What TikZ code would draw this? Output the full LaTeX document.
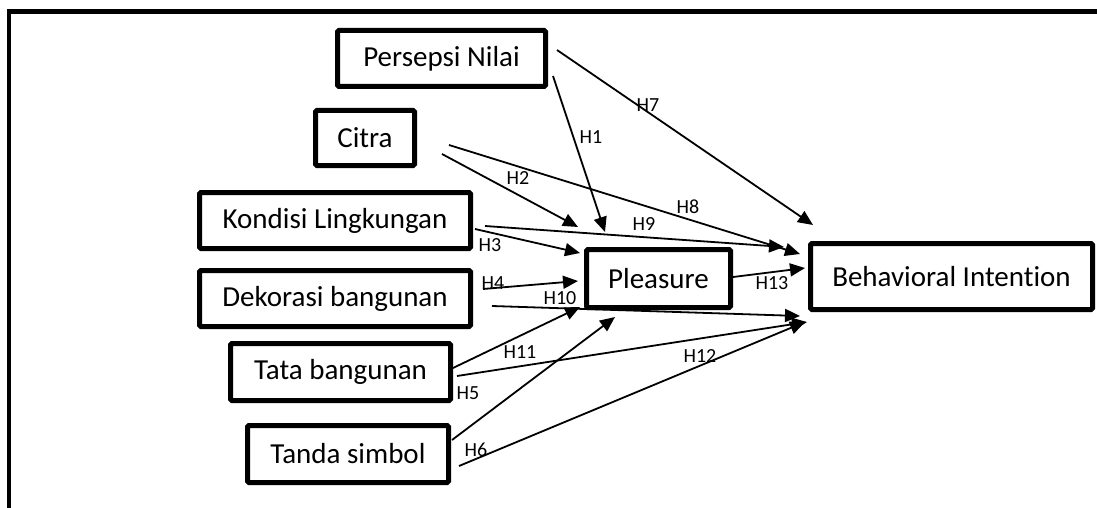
\documentclass[tikz,border=0pt]{standalone}
\usepackage{fontspec}
\setmainfont{Carlito}[Ligatures=NoCommon]
\usetikzlibrary{arrows.meta}
\begin{document}
\begin{tikzpicture}[x=1pt,y=-1pt,
  box/.style={draw, line width=5pt, rectangle, rounded corners=1.5pt, inner sep=0pt, align=center,
    font=\fontsize{29}{34}\selectfont},
  conn/.style={line width=1.8pt, -{Triangle[length=15pt,width=13pt]}},
  hlab/.style={inner sep=0pt, font=\fontsize{20}{24}\selectfont}]
\useasboundingbox (0,0) rectangle (1097,508);
\fill[white] (0,0) rectangle (1097,508);
% frame
\draw[line width=4.5pt] (9,520) -- (9,11.5) -- (1110,11.5);
% boxes
\node[box, minimum width=208pt, minimum height=56pt] (PN) at (441.5,58.5) {Persepsi Nilai};
\node[box, minimum width=99pt, minimum height=55pt] (CI) at (365,138) {Citra};
\node[box, minimum width=271pt, minimum height=56pt] (KL) at (335,220.5) {Kondisi Lingkungan};
\node[box, minimum width=271pt, minimum height=56pt] (DB) at (335,298.5) {Dekorasi bangunan};
\node[box, minimum width=220pt, minimum height=57pt] (TB) at (340.5,372) {Tata bangunan};
\node[box, minimum width=201pt, minimum height=57pt] (TS) at (348,454) {Tanda simbol};
\node[box, minimum width=144pt, minimum height=58pt] (PL) at (658.5,278.5) {Pleasure};
\node[box, minimum width=282pt, minimum height=66pt] (BI) at (951.5,276.5) {Behavioral Intent\kern0pt ion};
% connector ends
\coordinate (s7) at (557,50);   \coordinate (t7) at (813,225);
\coordinate (s1) at (553,76);   \coordinate (t1) at (605,232);
\coordinate (s2) at (442,154);  \coordinate (t2) at (578,227);
\coordinate (s8) at (449,145);  \coordinate (t8) at (800,254);
\coordinate (s9) at (485,226);  \coordinate (t9) at (784,247);
\coordinate (s3) at (475,229);  \coordinate (t3) at (580,253);
\coordinate (s4) at (483,289);  \coordinate (t4) at (578,281);
\coordinate (s10) at (492,306); \coordinate (t10) at (800,316);
\coordinate (s5) at (453,368);  \coordinate (t5) at (580,307);
\coordinate (s11) at (457,376); \coordinate (t11) at (807,322);
\coordinate (s6) at (452,440);  \coordinate (t6) at (615,317);
\coordinate (s12) at (459,466); \coordinate (t12) at (805,322);
\coordinate (s13) at (733,277); \coordinate (t13) at (805,268);
% connectors
\draw[conn] (s7) -- (t7);
\draw[conn] (s1) -- (t1);
\draw[conn] (s2) -- (t2);
\draw[conn] (s8) -- (t8);
\draw[conn] (s9) -- (t9);
\draw[conn] (s3) -- (t3);
\draw[conn] (s4) -- (t4);
\draw[conn] (s10) -- (t10);
\draw[conn] (s5) -- (t5);
\draw[conn] (s11) -- (t11);
\draw[conn] (s6) -- (t6);
\draw[conn] (s12) -- (t12);
\draw[conn] (s13) -- (t13);
% labels
\node[hlab] (L7) at (648,105) {H7};
\node[hlab] (L1) at (591,137) {H1};
\node[hlab] (L2) at (518,178) {H2};
\node[hlab] (L8) at (688,207) {H8};
\node[hlab] (L9) at (644,224) {H9};
\node[hlab] (L3) at (490,245) {H3};
\node[hlab] (L4) at (493,283) {H4};
\node[hlab] (L10) at (560,298) {H10};
\node[hlab] (L11) at (520,352) {H11};
\node[hlab] (L5) at (468,393) {H5};
\node[hlab] (L6) at (476,450) {H6};
\node[hlab] (L12) at (700,356) {H12};
\node[hlab] (L13) at (772,283) {H13};
\end{tikzpicture}
\end{document}
